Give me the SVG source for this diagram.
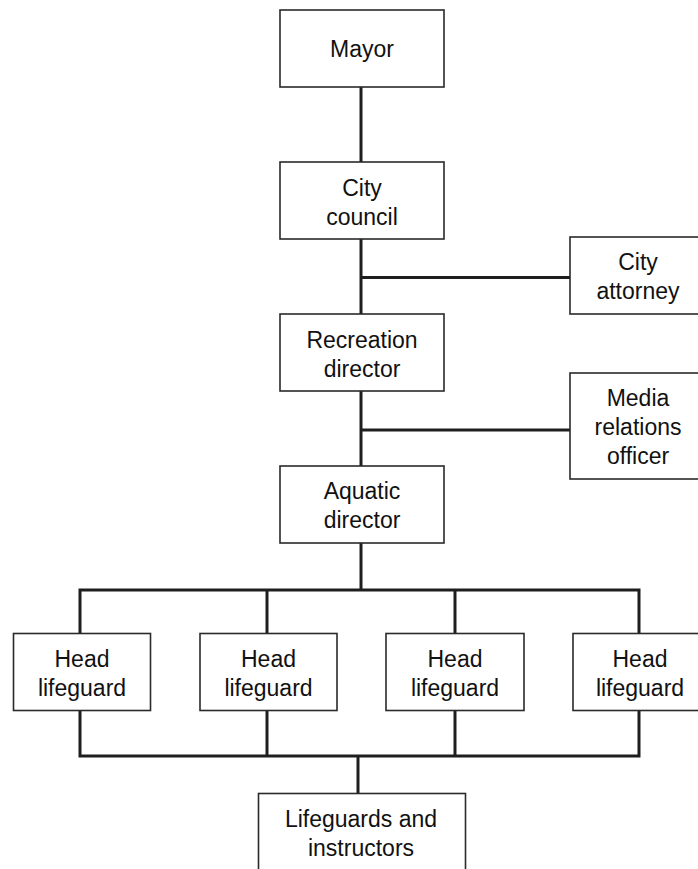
<svg xmlns="http://www.w3.org/2000/svg" width="698" height="869" viewBox="0 0 698 869">
<style>
.box{fill:#fff;stroke:#2a2a2a;stroke-width:1.6}
.lbl{font-family:"Liberation Sans",Arial,sans-serif;font-size:23px;fill:#111;text-anchor:middle}
.con{stroke:#1e1e1e;stroke-width:3;fill:none;stroke-linecap:butt}
</style>
<rect width="698" height="869" fill="#fff"/>
<g id="connectors">
<line class="con" x1="361" y1="87" x2="361" y2="162"/>
<line class="con" x1="361" y1="239" x2="361" y2="314"/>
<line class="con" x1="361" y1="277.5" x2="570" y2="277.5"/>
<line class="con" x1="361" y1="391" x2="361" y2="466"/>
<line class="con" x1="361" y1="430" x2="570" y2="430"/>
<line class="con" x1="361" y1="543" x2="361" y2="590"/>
<polyline class="con" points="80,633 80,590 639,590 639,633"/>
<line class="con" x1="267" y1="590" x2="267" y2="633"/>
<line class="con" x1="455" y1="590" x2="455" y2="633"/>
<polyline class="con" points="80,711 80,756 639,756 639,711"/>
<line class="con" x1="267" y1="711" x2="267" y2="756"/>
<line class="con" x1="455" y1="711" x2="455" y2="756"/>
<line class="con" x1="358" y1="756" x2="358" y2="793"/>
</g>
<g id="mayor"><rect class="box" x="280" y="10" width="164" height="77"/><text class="lbl" x="362" y="56.5">Mayor</text></g>
<g id="city-council"><rect class="box" x="280" y="162" width="164" height="77"/><text class="lbl" x="362" y="195.5">City</text><text class="lbl" x="362" y="225">council</text></g>
<g id="city-attorney"><rect class="box" x="570" y="237" width="140" height="77"/><text class="lbl" x="638" y="270">City</text><text class="lbl" x="638" y="299">attorney</text></g>
<g id="recreation-director"><rect class="box" x="280" y="314" width="164" height="77"/><text class="lbl" x="362" y="348">Recreation</text><text class="lbl" x="362" y="377">director</text></g>
<g id="media-relations-officer"><rect class="box" x="570" y="373" width="140" height="106"/><text class="lbl" x="638" y="406">Media</text><text class="lbl" x="638" y="435">relations</text><text class="lbl" x="638" y="463.5">officer</text></g>
<g id="aquatic-director"><rect class="box" x="280" y="466" width="164" height="77"/><text class="lbl" x="362" y="499">Aquatic</text><text class="lbl" x="362" y="528">director</text></g>
<g id="head-lifeguard-1"><rect class="box" x="13.5" y="633.5" width="137" height="77"/><text class="lbl" x="82" y="666.5">Head</text><text class="lbl" x="82" y="696">lifeguard</text></g>
<g id="head-lifeguard-2"><rect class="box" x="200" y="633.5" width="137" height="77"/><text class="lbl" x="268.5" y="666.5">Head</text><text class="lbl" x="268.5" y="696">lifeguard</text></g>
<g id="head-lifeguard-3"><rect class="box" x="386" y="633.5" width="138" height="77"/><text class="lbl" x="455" y="666.5">Head</text><text class="lbl" x="455" y="696">lifeguard</text></g>
<g id="head-lifeguard-4"><rect class="box" x="573" y="633.5" width="137" height="77"/><text class="lbl" x="640" y="666.5">Head</text><text class="lbl" x="640" y="696">lifeguard</text></g>
<g id="lifeguards-instructors"><rect class="box" x="258.5" y="793.5" width="207" height="90"/><text class="lbl" x="361" y="826.5">Lifeguards and</text><text class="lbl" x="361" y="855.5">instructors</text></g>
</svg>
